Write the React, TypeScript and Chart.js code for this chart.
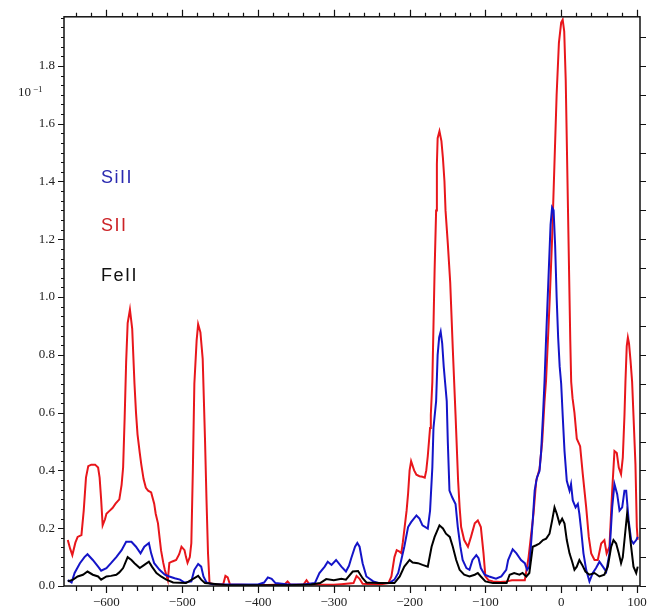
import React, { useEffect, useRef } from 'react';
import { Chart, registerables } from 'chart.js';
Chart.register(...registerables);

// Velocity (km/s) and normalised optical depth (units of 10^-1) per ion
const SII_V = [-651,-648,-645,-641,-638,-633,-630,-627,-624,-620,-615,-611,-609,-607,-605,-602,-600,-596,-592,-588,-583,-580,-578,-576,-574,-572,-569,-566,-563,-561,-559,-556,-554,-551,-548,-545,-541,-537,-535,-532,-530,-528,-525,-523,-519,-517,-513,-508,-504,-501,-497,-495,-493,-490,-488,-486,-484,-481,-479,-476,-473,-470,-468,-466,-464,-455,-446,-443,-440,-437,-400,-365,-361,-357,-340,-336,-332,-300,-290,-274,-270,-266,-262,-240,-228,-224,-220,-217,-214,-211,-209,-207,-204,-202,-200,-198,-194,-191,-187,-183,-180,-178,-176,-173,-172,-170,-167,-165,-164,-163,-160.6,-158,-156,-154,-152.6,-149.6,-146.4,-143,-139.4,-136,-134,-132,-128,-123,-119,-114,-110,-106,-102.5,-100,-96,-90,-80,-72,-65,-55,-48,-45,-43,-40,-36.5,-33,-28.6,-25,-22,-20,-17,-15,-12,-9,-6,-3,0,2,4,6,8,10,12,13.2,15,17.5,20.6,25,28.5,33,36.4,39.6,44,48.3,52.8,57,60,63.7,67.3,70.3,73.4,76,79,81.3,83.5,84.8,86.5,88,89.5,91.5,93.6,95.4,98,99.8,101];
const SII_F = [0.159,0.13,0.107,0.15,0.17,0.176,0.26,0.375,0.415,0.42,0.42,0.41,0.375,0.30,0.21,0.23,0.25,0.26,0.27,0.285,0.30,0.35,0.41,0.58,0.775,0.91,0.957,0.89,0.70,0.60,0.525,0.46,0.42,0.37,0.34,0.33,0.324,0.285,0.25,0.217,0.17,0.124,0.08,0.056,0.02,0.08,0.085,0.09,0.11,0.136,0.124,0.10,0.08,0.10,0.148,0.40,0.70,0.85,0.906,0.878,0.786,0.512,0.30,0.114,0.01,0.005,0.005,0.035,0.03,0.005,0.003,0.005,0.016,0.004,0.005,0.02,0.005,0.004,0.006,0.01,0.035,0.025,0.008,0.005,0.01,0.033,0.10,0.124,0.12,0.114,0.15,0.193,0.26,0.32,0.40,0.432,0.40,0.385,0.38,0.378,0.375,0.40,0.45,0.547,0.593,0.706,1.094,1.30,1.46,1.55,1.574,1.54,1.48,1.40,1.30,1.186,1.05,0.82,0.593,0.364,0.272,0.204,0.159,0.136,0.17,0.217,0.227,0.204,0.114,0.033,0.02,0.016,0.014,0.016,0.02,0.02,0.02,0.067,0.10,0.17,0.25,0.364,0.405,0.50,0.638,0.71,0.88,1.00,1.2,1.45,1.7,1.88,1.95,1.96,1.92,1.75,1.45,1.15,0.85,0.707,0.65,0.60,0.51,0.484,0.387,0.272,0.17,0.113,0.09,0.09,0.147,0.159,0.113,0.136,0.33,0.467,0.46,0.41,0.387,0.444,0.59,0.707,0.83,0.86,0.84,0.78,0.707,0.59,0.42,0.204,0.16];

const SIII_V = [-651,-646,-642,-635,-629,-625,-618,-611,-607,-600,-594,-587,-580,-574,-567,-561,-555,-550,-544,-541,-537,-530,-523,-517,-510,-503,-497,-488,-484,-479,-475,-472,-468,-460,-430,-400,-392,-387,-382,-377,-360,-340,-325,-319,-312,-308,-303,-297,-290,-284,-280,-277,-272,-269,-266,-262,-257,-248,-240,-227,-220,-215,-211,-207,-202,-198,-191,-187,-183,-176,-173,-170,-168.5,-165,-163,-161,-159,-157,-155,-153,-151,-149.6,-147.4,-143.8,-139.4,-136.4,-133,-130,-125,-121,-117,-112,-109,-106,-101,-95,-86,-79,-72.5,-70,-64,-59,-53,-48,-45,-42,-40,-37.5,-35,-32,-28.6,-26.4,-24,-22,-20,-17,-14,-12,-10,-8,-6,-4,-2,0,2,4.4,7.4,11,13,15.3,19,22,24,26.4,29.4,33,37.3,41.7,46,50.5,55,59.4,63.7,67.3,70.3,73.9,77,80.5,83.5,85.8,89,92.3,95.4,99,101];
const SIII_F = [0.02,0.012,0.045,0.079,0.10,0.11,0.09,0.067,0.053,0.062,0.079,0.10,0.124,0.153,0.153,0.136,0.113,0.136,0.149,0.113,0.079,0.056,0.039,0.033,0.027,0.022,0.012,0.016,0.056,0.076,0.067,0.033,0.012,0.006,0.005,0.005,0.012,0.03,0.025,0.01,0.005,0.005,0.01,0.045,0.067,0.084,0.073,0.09,0.067,0.05,0.07,0.096,0.136,0.149,0.136,0.079,0.033,0.016,0.01,0.01,0.022,0.045,0.09,0.136,0.204,0.221,0.244,0.233,0.21,0.199,0.261,0.41,0.547,0.64,0.80,0.86,0.88,0.84,0.76,0.70,0.64,0.50,0.33,0.307,0.284,0.204,0.136,0.09,0.062,0.056,0.09,0.107,0.096,0.062,0.039,0.033,0.025,0.033,0.056,0.09,0.127,0.113,0.09,0.079,0.056,0.067,0.136,0.227,0.33,0.375,0.398,0.467,0.59,0.707,0.85,1.05,1.25,1.31,1.30,1.18,1.0,0.86,0.76,0.70,0.59,0.467,0.364,0.33,0.353,0.296,0.272,0.284,0.25,0.193,0.113,0.056,0.016,0.045,0.062,0.084,0.067,0.05,0.113,0.272,0.353,0.318,0.261,0.272,0.33,0.33,0.227,0.159,0.147,0.159,0.17];

const FEII_V = [-651,-644,-638,-631,-625,-618,-611,-607,-600,-594,-587,-583,-578,-572,-567,-563,-556,-550,-544,-540,-534,-528,-521,-512,-495,-484,-479,-475,-470,-440,-400,-360,-330,-318,-310,-300,-290,-284,-275,-268,-262,-257,-240,-220,-213,-207,-200,-196,-189,-183,-176,-171,-167,-160.6,-156,-152,-147,-143,-138.5,-134,-128,-121,-114,-110,-106,-100,-90,-72,-68,-62,-55,-51,-46,-42,-37.5,-33,-28.6,-24,-19.8,-15.4,-11.9,-8.8,-5.8,-2.2,1.3,4.4,7.4,11,14.5,17.5,20.6,24,27.7,32,37.3,44,50.5,57,61.5,66,69,72.5,76,79,81.3,84.8,87,89,92.3,95.4,99,101];
const FEII_F = [0.016,0.022,0.033,0.039,0.05,0.039,0.033,0.022,0.033,0.035,0.039,0.047,0.062,0.10,0.09,0.079,0.062,0.073,0.084,0.067,0.045,0.033,0.022,0.012,0.01,0.027,0.035,0.022,0.01,0.003,0.003,0.003,0.005,0.01,0.024,0.02,0.025,0.022,0.05,0.052,0.027,0.012,0.01,0.01,0.033,0.067,0.09,0.081,0.079,0.073,0.067,0.136,0.17,0.21,0.199,0.181,0.17,0.136,0.09,0.056,0.039,0.033,0.039,0.045,0.033,0.016,0.01,0.01,0.039,0.045,0.039,0.045,0.033,0.045,0.136,0.141,0.147,0.159,0.164,0.181,0.227,0.272,0.25,0.216,0.233,0.216,0.159,0.113,0.084,0.056,0.067,0.09,0.073,0.05,0.039,0.045,0.033,0.039,0.067,0.136,0.159,0.147,0.113,0.079,0.10,0.193,0.25,0.216,0.136,0.067,0.045,0.067];

const X_TICKS = [-600, -500, -400, -300, -200, -100, 0, 100];
const Y_TICKS = [0, 0.2, 0.4, 0.6, 0.8, 1.0, 1.2, 1.4, 1.6, 1.8];
const SERIES_LABELS = ['SiII', 'SII', 'FeII'];
const SERIES_COLORS = ['#1414c8', '#e8161b', '#000000'];
const LABEL_COLORS = ['#2a2ab0', '#cc2226', '#111111'];
const X_MIN = -656;
const X_MAX = 104;
const Y_MIN = 0;
const Y_MAX = 1.97;

const framePlugin = {
  id: 'frame',
  afterDraw(chart: any) {
    const { ctx, chartArea: a, scales } = chart;
    const xs = scales.x;
    const ys = scales.y;
    ctx.save();
    ctx.strokeStyle = '#111';
    ctx.lineWidth = 1.5;
    ctx.strokeRect(a.left, a.top, a.right - a.left, a.bottom - a.top);
    ctx.lineWidth = 1.2;
    ctx.beginPath();
    // x ticks: minor every 20, major every 100 (bottom & top, outward)
    for (let i = -32; i <= 5; i++) {
      const v = i * 20;
      if (v < X_MIN || v > X_MAX) continue;
      const px = Math.round(xs.getPixelForValue(v)) + 0.5;
      const major = v % 100 === 0;
      ctx.moveTo(px, a.bottom);
      ctx.lineTo(px, a.bottom + (major ? 7 : 5));
      ctx.moveTo(px, a.top);
      ctx.lineTo(px, a.top - (major ? 7 : 4));
    }
    // left y ticks: minor every 0.2/6
    for (let i = 0; i <= 60; i++) {
      const v = i * 0.2 / 6;
      if (v > Y_MAX) break;
      const py = Math.round(ys.getPixelForValue(v)) + 0.5;
      const major = i % 6 === 0;
      ctx.moveTo(a.left, py);
      ctx.lineTo(a.left - (major ? 6 : 3), py);
    }
    // right y ticks every 0.1
    for (let i = 0; i <= 19; i++) {
      const v = i * 0.1;
      const py = Math.round(ys.getPixelForValue(v)) + 0.5;
      ctx.moveTo(a.right, py);
      ctx.lineTo(a.right + 6, py);
    }
    ctx.stroke();

    // exponent label
    ctx.fillStyle = '#222';
    ctx.textBaseline = 'alphabetic';
    ctx.font = '13px "Liberation Serif"';
    ctx.fillText('10', 18, 96);
    ctx.font = '9px "Liberation Serif"';
    ctx.fillText('\u22121', 33, 92);

    // series labels
    ctx.font = '18px "Liberation Sans"';
    (ctx as any).letterSpacing = '1.5px';
    const baselines = [183, 231, 281];
    SERIES_LABELS.forEach((t, i) => {
      ctx.fillStyle = LABEL_COLORS[i];
      ctx.fillText(t, a.left + 37, baselines[i]);
    });
    ctx.restore();
  },
};

function pts(xs: number[], ys: number[]) {
  return xs.map((x, i) => ({ x, y: ys[i] }));
}

export default function App() {
  const ref = useRef<HTMLCanvasElement>(null);
  useEffect(() => {
    if (!ref.current) return;
    const chart = new Chart(ref.current, {
      type: 'line',
      data: {
        datasets: [
          { label: SERIES_LABELS[2], data: pts(FEII_V, FEII_F), borderColor: SERIES_COLORS[2] },
          { label: SERIES_LABELS[0], data: pts(SIII_V, SIII_F), borderColor: SERIES_COLORS[0] },
          { label: SERIES_LABELS[1], data: pts(SII_V, SII_F), borderColor: SERIES_COLORS[1] },
        ],
      },
      options: {
        responsive: false,
        animation: false,
        layout: { padding: { left: 0, right: 25, top: 11, bottom: 0 } },
        plugins: { legend: { display: false }, tooltip: { enabled: false } },
        elements: {
          point: { radius: 0 },
          line: { borderWidth: 2, tension: 0, fill: false },
        },
        scales: {
          x: {
            type: 'linear',
            min: X_MIN,
            max: X_MAX,
            grid: { display: false, drawTicks: false },
            border: { display: false },
            afterBuildTicks: (s: any) => {
              s.ticks = X_TICKS.map((v) => ({ value: v }));
            },
            afterFit: (s: any) => {
              s.height = 30;
            },
            ticks: {
              padding: 9,
              autoSkip: false,
              maxRotation: 0,
              color: '#222',
              font: { family: '"Liberation Serif"', size: 13 },
              callback: (v: any) => (v < 0 ? '\u2212' + Math.abs(v) : String(v)),
            },
          },
          y: {
            type: 'linear',
            min: Y_MIN,
            max: Y_MAX,
            grid: { display: false, drawTicks: false },
            border: { display: false },
            afterBuildTicks: (s: any) => {
              s.ticks = Y_TICKS.map((v) => ({ value: v }));
            },
            afterFit: (s: any) => {
              s.width = 64;
            },
            ticks: {
              padding: 9,
              autoSkip: false,
              color: '#222',
              font: { family: '"Liberation Serif"', size: 13 },
              callback: (v: any) => Number(v).toFixed(1),
            },
          },
        },
      },
      plugins: [framePlugin],
    } as any);
    return () => chart.destroy();
  }, []);
  return (
    <div style={{ position: 'absolute', left: 0, top: 0, width: 665, height: 616, background: '#fff' }}>
      <canvas ref={ref} width={665} height={616} style={{ display: 'block' }} />
    </div>
  );
}
